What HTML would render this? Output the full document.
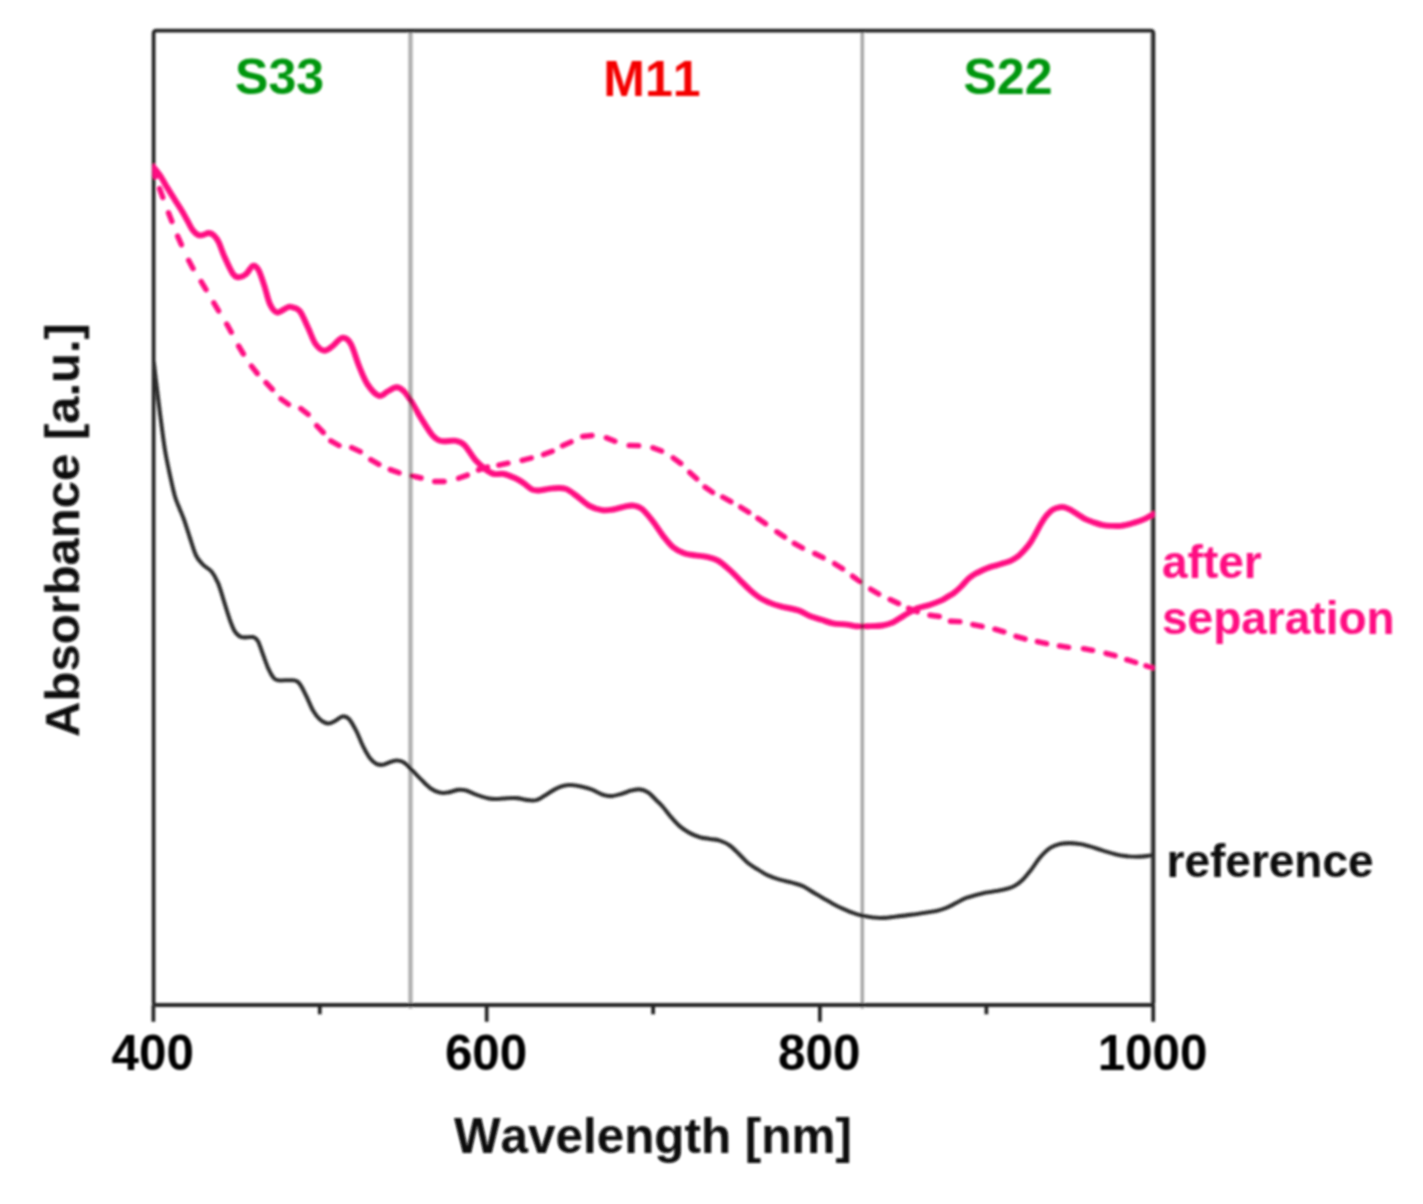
<!DOCTYPE html>
<html lang="en"><head><meta charset="utf-8"><title>Absorbance spectra</title>
<style>
html,body{margin:0;padding:0;background:#fff;}
body{width:1423px;height:1204px;overflow:hidden;}
svg{display:block;}
text{font-family:'Liberation Sans', sans-serif;font-weight:700;font-kerning:none;}
</style></head><body>
<svg width="1423" height="1204" viewBox="0 0 1423 1204">
<rect width="1423" height="1204" fill="#ffffff"/>
<defs><filter id="soft" x="0" y="0" width="1423" height="1204" filterUnits="userSpaceOnUse"><feGaussianBlur stdDeviation="0.85"/></filter></defs>
<g filter="url(#soft)">
<line x1="1151.5" y1="32.6" x2="1151.5" y2="1003.0" stroke="#8a8a8a" stroke-width="2.2"/>
<g id="axes" fill="none" stroke="#262626" stroke-width="3.8" stroke-linejoin="round">
<rect x="153.6" y="30.6" width="999.8" height="974.4" rx="2.5" ry="2.5"/>
<line x1="153.4" y1="1005.0" x2="153.4" y2="1021.8"/>
<line x1="486.7" y1="1005.0" x2="486.7" y2="1021.8"/>
<line x1="819.9" y1="1005.0" x2="819.9" y2="1021.8"/>
<line x1="1153.2" y1="1005.0" x2="1153.2" y2="1021.8"/>
<line x1="319.8" y1="1005.0" x2="319.8" y2="1014.3"/>
<line x1="653.1" y1="1005.0" x2="653.1" y2="1014.3"/>
<line x1="986.4" y1="1005.0" x2="986.4" y2="1014.3"/>
</g>
<clipPath id="plotclip"><rect x="152.3" y="30.6" width="1002.4" height="974.4"/></clipPath>
<g id="curves" fill="none" stroke-linejoin="round" clip-path="url(#plotclip)">
<path id="reference" d="M153.8 362.0C154.2 365.2 155.2 374.7 156.0 381.0C156.8 387.3 157.4 392.5 158.3 399.8C159.2 407.1 160.4 416.7 161.5 425.0C162.6 433.3 163.6 441.7 164.9 449.7C166.2 457.7 167.8 465.2 169.5 473.0C171.2 480.8 173.2 490.3 174.9 496.2C176.6 502.1 177.9 504.4 179.5 508.5C181.1 512.5 182.6 515.7 184.3 520.5C186.0 525.3 187.9 531.7 189.8 537.5C191.8 543.3 193.8 550.9 196.0 555.5C198.2 560.1 200.6 562.2 203.2 564.9C205.8 567.6 209.0 568.5 211.5 571.5C214.0 574.5 216.0 578.1 218.1 583.1C220.2 588.1 222.1 595.3 224.0 601.4C225.9 607.5 228.0 614.7 229.8 619.7C231.6 624.7 232.9 628.4 234.8 631.3C236.7 634.2 238.4 636.1 241.4 637.1C244.4 638.1 250.2 636.4 253.0 637.1C255.8 637.8 256.3 638.4 258.0 641.3C259.7 644.2 261.3 650.2 263.0 654.6C264.7 659.0 266.3 664.1 268.0 667.8C269.7 671.5 271.4 674.9 273.0 677.0C274.6 679.1 274.6 679.8 277.9 680.3C281.2 680.8 289.3 679.8 292.9 680.3C296.5 680.8 297.2 680.9 299.5 683.6C301.8 686.3 304.1 691.8 306.4 696.3C308.6 700.8 310.8 706.7 313.0 710.5C315.2 714.3 317.2 717.0 319.7 719.2C322.2 721.4 325.5 723.3 328.2 723.5C330.9 723.7 333.3 721.8 335.7 720.6C338.1 719.4 340.2 716.8 342.4 716.5C344.6 716.2 346.6 716.5 349.0 719.0C351.4 721.5 354.1 726.8 356.5 731.4C358.9 736.0 360.9 742.0 363.1 746.4C365.3 750.8 367.6 755.1 369.8 758.0C372.0 760.9 374.2 762.7 376.4 763.8C378.6 764.9 380.9 765.0 383.1 764.7C385.3 764.4 387.4 762.9 389.7 762.2C392.0 761.5 394.7 760.4 397.2 760.5C399.7 760.6 402.1 761.2 404.7 763.0C407.3 764.8 410.0 768.2 413.0 771.3C416.0 774.3 419.9 778.4 422.9 781.3C425.9 784.2 428.4 786.8 431.2 788.7C434.0 790.6 436.7 792.0 439.5 792.6C442.3 793.2 444.8 793.1 447.8 792.6C450.9 792.1 454.8 790.3 457.8 789.9C460.9 789.5 463.1 789.6 466.1 790.4C469.2 791.2 472.5 793.3 476.1 794.6C479.7 795.9 484.4 797.5 487.7 798.2C491.0 798.9 493.1 799.0 496.0 799.0C498.9 799.0 501.5 798.5 504.9 798.4C508.3 798.2 512.6 797.8 516.5 798.1C520.4 798.4 524.9 799.8 528.2 800.1C531.5 800.4 533.7 800.9 536.5 800.1C539.3 799.4 541.8 797.4 544.8 795.6C547.8 793.9 551.3 791.2 554.3 789.6C557.3 788.0 560.0 786.8 562.8 786.0C565.6 785.2 568.0 784.9 571.0 785.0C574.0 785.1 577.5 785.6 581.0 786.4C584.5 787.2 588.4 788.2 592.0 789.6C595.6 791.0 599.7 793.7 602.9 794.8C606.1 795.9 608.2 796.2 611.2 796.1C614.2 796.0 617.9 794.8 621.2 793.9C624.5 793.0 628.2 791.4 631.2 790.6C634.2 789.9 636.7 789.1 639.5 789.4C642.3 789.7 645.0 790.5 647.8 792.3C650.6 794.1 653.6 797.5 656.1 800.0C658.6 802.5 660.7 804.4 663.0 807.0C665.3 809.6 667.2 812.6 670.0 815.8C672.8 819.0 676.6 823.5 679.9 826.4C683.2 829.3 686.6 831.3 689.9 833.1C693.2 834.9 696.6 836.2 699.9 837.2C703.2 838.2 706.5 838.3 709.8 838.9C713.1 839.5 716.5 839.5 719.8 840.6C723.1 841.7 726.5 843.1 729.8 845.5C733.1 847.9 736.7 851.8 739.7 854.7C742.7 857.6 745.0 860.5 748.0 863.0C751.0 865.5 754.7 867.5 758.0 869.6C761.3 871.7 764.4 873.7 768.0 875.4C771.6 877.1 775.5 878.4 779.6 879.6C783.8 880.9 789.0 881.8 792.9 882.9C796.8 884.0 799.6 884.7 802.9 886.2C806.2 887.7 809.5 890.2 812.8 892.1C816.1 894.0 819.5 896.0 822.8 897.9C826.1 899.8 829.5 901.9 832.8 903.7C836.1 905.5 839.7 907.3 842.7 908.7C845.7 910.1 847.9 911.1 851.0 912.2C854.1 913.4 857.9 914.7 861.6 915.6C865.3 916.5 869.6 917.1 873.2 917.5C876.8 917.9 879.3 918.1 883.2 917.9C887.1 917.7 892.1 917.0 896.5 916.5C900.9 916.0 905.4 915.5 909.8 914.9C914.2 914.3 918.7 913.6 923.1 912.9C927.5 912.2 932.4 911.7 936.3 910.9C940.2 910.1 943.0 909.2 946.3 907.9C949.6 906.6 953.0 904.6 956.3 902.9C959.6 901.2 962.9 899.2 966.2 897.9C969.5 896.6 972.9 895.9 976.2 895.0C979.5 894.1 982.9 893.3 986.2 892.6C989.5 891.9 992.8 891.6 996.1 891.0C999.4 890.4 1003.1 889.8 1006.1 889.0C1009.1 888.2 1011.6 887.5 1014.4 886.0C1017.2 884.5 1019.9 882.4 1022.7 879.7C1025.5 877.0 1028.1 873.6 1031.0 869.9C1033.9 866.2 1036.8 861.2 1039.9 857.6C1043.0 854.0 1046.5 850.4 1049.8 848.1C1053.1 845.8 1056.5 844.8 1059.8 844.0C1063.1 843.2 1066.5 843.1 1069.8 843.1C1073.1 843.1 1076.4 843.5 1079.7 844.0C1083.0 844.5 1085.8 845.3 1089.7 846.4C1093.6 847.5 1098.6 849.3 1103.0 850.6C1107.4 851.9 1112.4 853.5 1116.3 854.4C1120.2 855.3 1122.9 855.7 1126.2 856.1C1129.5 856.5 1132.9 856.7 1136.2 856.7C1139.5 856.7 1143.4 856.4 1146.2 856.1C1149.0 855.8 1152.0 855.2 1153.2 855.0" stroke="#2e2e2e" stroke-width="4.1" stroke-linecap="butt"/>
<path id="after-dashed" d="M153.6 171.5L155.5 176.8M159.6 188.6L162.8 197.4M168.5 212.7L171.9 221.5M177.6 236.1L181.4 244.7M188.6 260.3L193.0 268.5M201.2 281.6L206.0 289.6M213.8 302.9L218.6 310.9M226.7 324.0L231.3 332.2M238.6 346.0L243.4 354.0M251.5 366.1L257.3 373.5M266.0 382.6L272.4 389.4M280.9 398.8L288.5 404.4M300.8 408.6L308.2 414.4M316.7 425.7L323.3 432.5M330.8 440.9L339.0 445.5M351.7 447.6L360.3 451.6M370.7 459.7L378.9 464.3M390.2 469.6L399.0 472.8M411.9 475.8L421.1 478.0M434.7 481.5L444.1 481.5M458.6 478.3L467.4 475.1M478.5 469.9L487.5 467.1M498.8 465.2L508.0 463.2M522.1 460.4L531.3 458.0M543.5 454.6L552.3 451.2M562.5 445.7L571.1 441.9M582.6 436.5L592.0 435.5M606.3 437.7L614.9 441.3M629.2 445.4L638.6 445.6M652.8 447.8L661.6 451.0M673.2 457.9L680.8 463.5M689.7 472.4L696.7 478.8M705.0 487.0L712.6 492.4M722.7 497.0L730.9 501.6M740.7 507.2L748.7 512.2M757.8 518.3L765.6 523.7M776.8 531.8L784.6 537.0M794.3 543.4L802.5 548.0M814.7 553.5L823.1 557.7M834.6 563.7L842.6 568.7M852.5 576.2L860.1 581.6M870.7 589.2L878.7 594.0M890.1 599.5L898.5 603.5M908.6 608.4L917.4 611.6M929.9 615.3L939.3 616.5M950.4 621.2L959.8 621.6M972.9 624.6L982.1 626.4M994.9 629.2L1003.9 631.8M1016.0 636.3L1025.0 638.9M1037.4 641.6L1046.6 643.6M1059.4 645.9L1068.6 647.3M1083.4 648.7L1092.6 650.3M1106.0 653.3L1115.0 655.7M1126.7 659.7L1135.7 662.5M1145.9 665.8L1152.2 667.8" stroke="#ff0a82" stroke-width="5.4" stroke-linecap="round"/>
<path id="after-solid" d="M152.0 165.0C152.3 165.4 152.3 165.6 153.6 167.3C154.9 169.0 157.7 172.0 160.0 175.4C162.3 178.8 164.9 183.8 167.4 187.9C169.9 192.0 172.4 195.9 174.9 199.9C177.4 203.9 180.0 207.8 182.4 211.8C184.8 215.8 187.3 220.7 189.1 223.8C190.8 226.9 191.4 228.4 192.9 230.3C194.4 232.2 196.6 234.2 198.3 235.0C200.0 235.8 201.6 235.1 203.3 234.8C205.1 234.5 207.1 232.9 208.8 233.0C210.5 233.1 212.0 233.7 213.6 235.2C215.2 236.7 216.8 238.3 218.6 242.0C220.4 245.7 222.3 251.9 224.7 257.3C227.1 262.7 230.8 271.0 233.2 274.3C235.6 277.6 236.8 277.3 238.9 277.3C241.0 277.3 243.6 276.2 245.9 274.3C248.2 272.4 250.9 266.5 253.0 265.8C255.1 265.1 256.7 266.8 258.6 270.1C260.5 273.4 262.4 280.0 264.3 285.6C266.2 291.2 267.8 299.5 269.9 304.0C272.0 308.5 274.2 311.8 277.0 312.4C279.8 313.0 284.5 308.6 286.9 307.7C289.3 306.8 289.1 306.4 291.3 307.0C293.5 307.6 297.0 307.6 299.8 311.1C302.6 314.6 305.6 322.6 308.2 328.0C310.8 333.4 312.7 339.8 315.3 343.6C317.9 347.4 321.0 350.1 323.8 350.6C326.6 351.1 329.2 348.5 332.3 346.4C335.4 344.3 339.1 338.4 342.1 337.9C345.2 337.4 347.8 338.9 350.6 343.6C353.4 348.3 356.3 359.4 359.1 366.2C361.9 373.0 364.3 379.6 367.6 384.5C370.9 389.4 375.6 394.6 378.9 395.8C382.2 397.0 384.4 393.0 387.3 391.6C390.2 390.2 393.7 387.3 396.5 387.3C399.3 387.3 401.8 389.2 404.3 391.6C406.8 394.0 408.6 397.0 411.4 401.5C414.2 406.0 417.7 412.8 421.2 418.4C424.7 424.0 429.2 431.6 432.5 435.4C435.8 439.2 437.1 440.1 441.0 441.0C444.9 441.9 452.1 440.1 456.0 440.8C459.9 441.5 461.2 441.8 464.5 445.1C467.8 448.4 472.0 456.4 475.8 460.6C479.6 464.8 484.0 468.3 487.1 470.5C490.2 472.7 491.4 473.4 494.2 474.0C497.0 474.6 500.6 473.3 504.1 474.0C507.6 474.7 512.1 476.8 515.4 478.3C518.7 479.8 521.0 481.3 523.8 483.2C526.6 485.1 529.6 488.4 532.3 489.6C535.0 490.8 536.6 490.6 540.0 490.4C543.4 490.2 548.5 488.7 552.7 488.4C556.9 488.1 561.4 487.5 565.4 488.8C569.4 490.1 572.7 493.1 576.7 496.0C580.7 498.9 585.2 503.5 589.4 505.9C593.6 508.3 598.1 509.6 602.1 510.2C606.1 510.8 609.6 510.1 613.4 509.5C617.2 508.9 621.4 507.2 624.7 506.6C628.0 506.0 630.4 505.2 633.2 505.6C636.0 506.0 638.4 506.2 641.7 508.8C645.0 511.4 649.5 517.0 653.0 521.5C656.5 526.0 659.6 531.4 662.9 535.6C666.2 539.8 669.3 544.0 672.8 546.9C676.3 549.8 680.3 551.8 684.1 553.2C687.9 554.6 691.6 554.8 695.4 555.4C699.2 556.0 702.9 555.9 706.7 556.8C710.5 557.7 714.2 558.4 718.0 560.6C721.8 562.8 726.0 566.7 729.6 569.9C733.2 573.1 736.3 576.5 739.6 579.8C742.9 583.1 746.2 586.6 749.5 589.6C752.8 592.6 756.2 595.4 759.5 597.6C762.8 599.8 765.9 601.1 769.4 602.6C772.9 604.1 775.8 605.1 780.7 606.4C785.7 607.7 794.2 609.0 799.1 610.6C804.0 612.2 806.6 614.8 810.4 616.3C814.2 617.8 817.9 618.6 821.7 619.8C825.5 621.0 828.8 622.6 833.0 623.4C837.2 624.2 843.3 624.1 847.1 624.6C850.9 625.1 852.1 625.9 855.6 626.2C859.1 626.5 863.8 626.3 868.3 626.2C872.8 626.1 878.4 626.1 882.4 625.5C886.4 624.9 888.7 624.4 892.3 622.7C895.9 621.1 899.9 618.0 904.0 615.6C908.1 613.2 912.5 610.3 916.7 608.5C920.9 606.7 925.2 606.4 929.4 605.0C933.6 603.6 939.1 601.4 942.1 600.1C945.1 598.8 945.1 598.3 947.1 597.1C949.1 595.9 951.8 594.7 954.1 592.9C956.5 591.1 958.9 588.8 961.2 586.5C963.6 584.2 965.9 581.0 968.2 578.9C970.6 576.8 972.9 575.2 975.3 573.8C977.7 572.4 980.0 571.4 982.4 570.3C984.8 569.2 987.0 568.2 989.4 567.4C991.8 566.6 994.1 566.0 996.5 565.3C998.9 564.6 1001.2 563.9 1003.6 563.2C1006.0 562.5 1008.2 562.0 1010.6 560.9C1013.0 559.8 1015.4 558.5 1017.7 556.6C1020.1 554.8 1022.6 552.1 1024.7 549.8C1026.8 547.4 1028.7 545.1 1030.5 542.5C1032.3 539.9 1033.8 537.0 1035.5 533.9C1037.2 530.8 1039.2 526.8 1041.0 523.8C1042.8 520.8 1044.4 518.0 1046.4 515.6C1048.4 513.2 1050.7 511.0 1052.8 509.6C1054.9 508.2 1057.2 507.7 1059.2 507.3C1061.2 506.9 1062.9 506.9 1064.7 507.3C1066.5 507.7 1068.1 508.5 1070.2 509.6C1072.3 510.8 1075.1 512.7 1077.5 514.2C1079.9 515.7 1082.1 517.4 1084.8 518.8C1087.5 520.2 1090.9 521.3 1093.9 522.4C1097.0 523.5 1100.0 524.6 1103.1 525.2C1106.1 525.8 1109.2 525.8 1112.2 525.9C1115.2 526.0 1118.4 526.1 1121.4 525.8C1124.5 525.4 1127.5 524.6 1130.5 523.8C1133.5 523.0 1136.9 522.1 1139.6 521.1C1142.3 520.1 1144.7 519.0 1146.9 517.9C1149.1 516.8 1151.7 515.1 1153.0 514.3C1154.3 513.5 1154.7 513.2 1155.0 513.0" stroke="#ff0a82" stroke-width="5.9" stroke-linecap="butt"/>
</g>
<g id="dividers" fill="none" style="mix-blend-mode:multiply">
<line x1="410.5" y1="30.6" x2="410.5" y2="1008.5" stroke="#b0b0b0" stroke-width="4.4"/>
<line x1="861.7" y1="30.6" x2="861.7" y2="1008.5" stroke="#8e8e8e" stroke-width="1.9"/>
<line x1="863.4" y1="30.6" x2="863.4" y2="1008.5" stroke="#b0b0b0" stroke-width="1.6"/>
</g>
<g id="labels" text-anchor="middle">
<text x="279.6" y="94.2" font-size="50" fill="#00960f">S33</text>
<text x="652.0" y="96.0" font-size="50" fill="#f40202">M11</text>
<text x="1008.0" y="94.2" font-size="50" fill="#00960f">S22</text>
<text x="152.8" y="1069.9" font-size="49.4" fill="#050505">400</text>
<text x="486.1" y="1069.9" font-size="49.4" fill="#050505">600</text>
<text x="819.3" y="1069.9" font-size="49.4" fill="#050505">800</text>
<text x="1152.6" y="1069.9" font-size="49.4" fill="#050505">1000</text>
<text x="652.9" y="1152.7" font-size="49.4" fill="#080808">Wavelength [nm]</text>
<text transform="translate(79.1 530.0) rotate(-90)" font-size="49.0" fill="#080808">Absorbance [a.u.]</text>
</g>
<g id="legend" text-anchor="start">
<text x="1162" y="577.7" font-size="46" fill="#ff0a82">after</text>
<text x="1162" y="634.4" font-size="46" fill="#ff0a82">separation</text>
<text x="1166.5" y="877.2" font-size="46" fill="#0a0a0a">reference</text>
</g>
</g>
</svg>
</body></html>
